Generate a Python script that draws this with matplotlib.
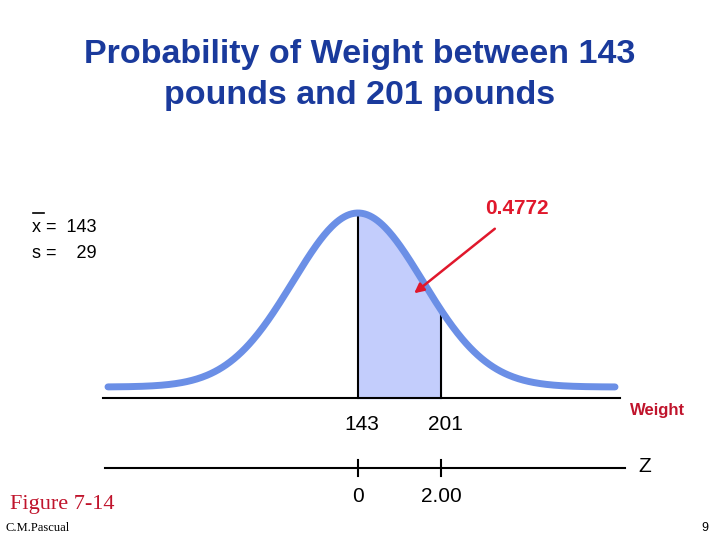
import numpy as np
import matplotlib
matplotlib.use("Agg")
import matplotlib.pyplot as plt

MEAN = 143
SD = 29
LOW, HIGH = 143, 201
AREA = "0.4772"
WEIGHT_TICKS = [143, 201]
Z_TICKS = ["0", "2.00"]

fig = plt.figure(figsize=(7.2, 5.4), dpi=100)
ax = fig.add_axes([0, 0, 1, 1])
# x in pounds (201 lands 83 px right of the mean), y in pixel-like units (top = 0)
px = 83 / (HIGH - MEAN)
ax.set_xlim(MEAN - 358 / px, MEAN + 362 / px)
ax.set_ylim(540, 0)
ax.axis("off")

def to_w(p):
    return MEAN + (p - 358) / px

# the slide's bell is drawn wider than scale
curve_sd = 65 / px

def bell(v):
    return 387 - 174 * np.exp(-((v - MEAN) / curve_sd) ** 2 / 2)

w = np.linspace(to_w(108), to_w(615), 400)
y = bell(w)
ax.plot(w, y, color="#6b8fe6", lw=5, solid_capstyle="round", zorder=3)

m = (w >= LOW) & (w <= HIGH)
ax.fill_between(w[m], y[m], 398, color="#c3cdfc", zorder=1)
for v in [LOW, HIGH]:
    ax.plot([v, v], [bell(v), 398], color="black", lw=1.5, zorder=2)

ax.plot([to_w(103), to_w(620)], [398, 398], color="black", lw=1.5)
ax.plot([to_w(105), to_w(625)], [468, 468], color="black", lw=1.5)
for v, lab in zip(WEIGHT_TICKS, Z_TICKS):
    ax.plot([v, v], [460, 476], color="black", lw=1.5)
    ax.text(v, 497, lab, ha="center", va="center", fontsize=15, family="Liberation Sans")
    ax.text(v + 3, 424, str(v), ha="center", va="center", fontsize=15, family="Liberation Sans")

ax.text(to_w(658), 410, "Weight", ha="center", va="center", fontsize=12,
        color="#c0142c", weight="bold", family="Liberation Sans")
ax.text(to_w(645), 467, "Z", ha="center", va="center", fontsize=15, family="Liberation Sans")

ax.text(to_w(360), 75, "Probability of Weight between 143\npounds and 201 pounds",
        ha="center", va="center", fontsize=24.5, color="#1a3a9c", weight="bold",
        family="Liberation Sans", linespacing=1.45)

ax.text(to_w(517), 208, AREA, ha="center", va="center", fontsize=15,
        color="#e0182c", weight="bold", family="Liberation Sans")
ax.annotate("", xy=(to_w(412), 295), xytext=(to_w(497), 227),
            arrowprops=dict(arrowstyle="-|>", color="#e0182c", lw=1.8, mutation_scale=14))

ax.text(to_w(32), 228, "x =  %d" % MEAN, ha="left", va="center", fontsize=13, family="Liberation Sans")
ax.plot([to_w(33), to_w(44)], [213, 213], color="black", lw=1.2)
ax.text(to_w(32), 253, "s =    %d" % SD, ha="left", va="center", fontsize=13, family="Liberation Sans")

ax.text(to_w(10), 505, "Figure 7-14", ha="left", va="center", fontsize=16,
        color="#c0142c", family="Liberation Serif")
ax.text(to_w(5), 528, "C.M.Pascual", ha="left", va="center", fontsize=9, family="Liberation Serif")
ax.text(to_w(708), 528, "9", ha="right", va="center", fontsize=9, family="Liberation Sans")

fig.savefig("out.png", dpi=100)
